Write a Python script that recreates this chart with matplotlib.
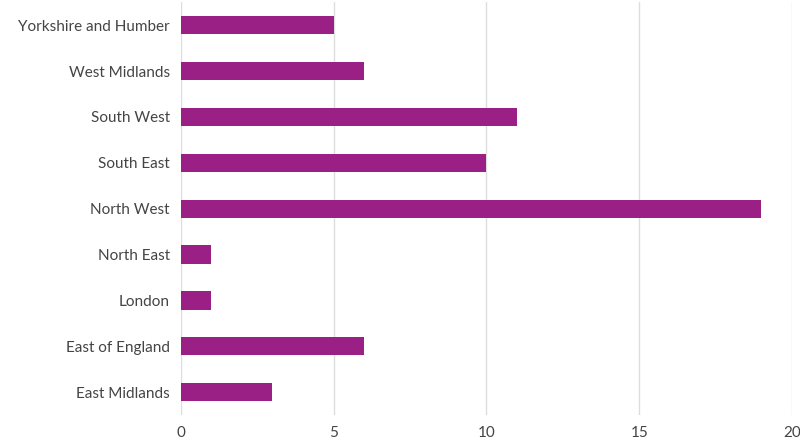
import matplotlib.pyplot as plt

regions = ['East Midlands', 'East of England', 'London', 'North East', 'North West',
           'South East', 'South West', 'West Midlands', 'Yorkshire and Humber']
counts = [3, 6, 1, 1, 19, 10, 11, 6, 5]
xticks = [0, 5, 10, 15, 20]

plt.rcParams['font.family'] = ['Lato', 'DejaVu Sans']

fig = plt.figure(figsize=(8, 4.44), dpi=100)
ax = fig.add_axes([0.226, 0.065, 0.764, 0.93])

ax.barh(range(len(regions)), counts, height=0.4, color='#9b2086', zorder=3)
ax.set_yticks(range(len(regions)))
ax.set_yticklabels(regions, fontsize=11, color='#444444')
ax.set_xticks(xticks)
ax.set_xticklabels([str(t) for t in xticks], fontsize=11, color='#444444')
ax.set_xlim(0, 20)
ax.set_ylim(-0.5, len(regions) - 0.5)
ax.grid(axis='x', color='#dddddd', linewidth=1, zorder=0)
for s in ax.spines.values():
    s.set_visible(False)
ax.tick_params(length=0, pad=8)

fig.savefig('out.png')
